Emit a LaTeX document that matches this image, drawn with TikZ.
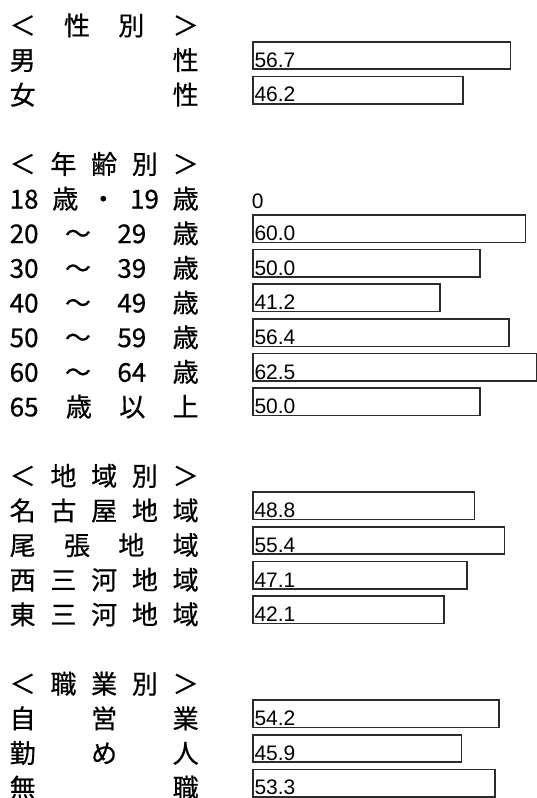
\documentclass[tikz,border=0pt]{standalone}
\usepackage{fontspec}
\setmainfont{Noto Sans CJK JP}[FakeBold=0.6]
\newfontfamily\numfont{Liberation Sans}
\usepackage{tikz}
\definecolor{barline}{HTML}{2b2b2b}
\newcommand\spreadlabel[1]{\hbox to 189pt{#1}}
\tikzset{%
    base/.style = {
        inner sep=0pt,
        font=\fontsize{26}{26}\selectfont,
    },
    rowlabel/.style = {
        base,
        anchor=base west,
    },
    bar/.style = {
        rectangle,
        draw=barline,
        line width=1.6pt,
        inner sep=0pt,
        minimum height=27.4pt,
        minimum width=#1*4.54pt,
        anchor=south west,
    },
    barvalue/.style = {
        inner sep=0pt,
        anchor=base west,
        font=\numfont\fontsize{21}{21}\selectfont,
    },
}

\begin{document}
\begin{tikzpicture}[x=1pt,y=-1pt]
    \useasboundingbox (0,0) rectangle (537,798);
    % sex
    \node [rowlabel] (sexhead) at (9.5,35.25) {\spreadlabel{＜\hfill 性\hfill 別\hfill ＞}};
    \node [rowlabel] (male) at (9.5,69.9) {\spreadlabel{男\hfill 性}};
    \node [rowlabel] (female) at (9.5,104.55) {\spreadlabel{女\hfill 性}};
    \node [bar=56.7] (malebar) at (252.3,69.9) {};
    \node [bar=46.2] (femalebar) at (252.3,104.55) {};
    \node [barvalue] at ([shift={(2pt,2.6pt)}]malebar.south west) {56.7};
    \node [barvalue] at ([shift={(2pt,2.6pt)}]femalebar.south west) {46.2};
    % age
    \node [rowlabel] (agehead) at (9.5,173.85) {\spreadlabel{＜\hfill 年\hfill 齢\hfill 別\hfill ＞}};
    \node [rowlabel] (age18) at (9.5,208.5) {\spreadlabel{18\hfill 歳\kern12pt ・\hfill 19\hfill 歳}};
    \node [rowlabel] (age20) at (9.5,243.15) {\spreadlabel{20\hfill ～\hfill 29\hfill 歳}};
    \node [rowlabel] (age30) at (9.5,277.8) {\spreadlabel{30\hfill ～\hfill 39\hfill 歳}};
    \node [rowlabel] (age40) at (9.5,312.45) {\spreadlabel{40\hfill ～\hfill 49\hfill 歳}};
    \node [rowlabel] (age50) at (9.5,347.1) {\spreadlabel{50\hfill ～\hfill 59\hfill 歳}};
    \node [rowlabel] (age60) at (9.5,381.75) {\spreadlabel{60\hfill ～\hfill 64\hfill 歳}};
    \node [rowlabel] (age65) at (9.5,416.4) {\spreadlabel{65\hfill 歳\hfill 以\hfill 上}};
    \node [barvalue] (age18val) at (251.7,208.5) {0};
    \node [bar=60.0] (age20bar) at (252.3,243.15) {};
    \node [bar=50.0] (age30bar) at (252.3,277.8) {};
    \node [bar=41.2] (age40bar) at (252.3,312.45) {};
    \node [bar=56.4] (age50bar) at (252.3,347.1) {};
    \node [bar=62.5] (age60bar) at (252.3,381.75) {};
    \node [bar=50.0] (age65bar) at (252.3,416.4) {};
    \node [barvalue] at ([shift={(2pt,2.6pt)}]age20bar.south west) {60.0};
    \node [barvalue] at ([shift={(2pt,2.6pt)}]age30bar.south west) {50.0};
    \node [barvalue] at ([shift={(2pt,2.6pt)}]age40bar.south west) {41.2};
    \node [barvalue] at ([shift={(2pt,2.6pt)}]age50bar.south west) {56.4};
    \node [barvalue] at ([shift={(2pt,2.6pt)}]age60bar.south west) {62.5};
    \node [barvalue] at ([shift={(2pt,2.6pt)}]age65bar.south west) {50.0};
    % region
    \node [rowlabel] (areahead) at (9.5,485.7) {\spreadlabel{＜\hfill 地\hfill 域\hfill 別\hfill ＞}};
    \node [rowlabel] (nagoya) at (9.5,520.35) {\spreadlabel{名\hfill 古\hfill 屋\hfill 地\hfill 域}};
    \node [rowlabel] (owari) at (9.5,555.0) {\spreadlabel{尾\hfill 張\hfill 地\hfill 域}};
    \node [rowlabel] (nishimikawa) at (9.5,589.65) {\spreadlabel{西\hfill 三\hfill 河\hfill 地\hfill 域}};
    \node [rowlabel] (higashimikawa) at (9.5,624.3) {\spreadlabel{東\hfill 三\hfill 河\hfill 地\hfill 域}};
    \node [bar=48.8] (nagoyabar) at (252.3,520.35) {};
    \node [bar=55.4] (owaribar) at (252.3,555.0) {};
    \node [bar=47.1] (nishimikawabar) at (252.3,589.65) {};
    \node [bar=42.1] (higashimikawabar) at (252.3,624.3) {};
    \node [barvalue] at ([shift={(2pt,2.6pt)}]nagoyabar.south west) {48.8};
    \node [barvalue] at ([shift={(2pt,2.6pt)}]owaribar.south west) {55.4};
    \node [barvalue] at ([shift={(2pt,2.6pt)}]nishimikawabar.south west) {47.1};
    \node [barvalue] at ([shift={(2pt,2.6pt)}]higashimikawabar.south west) {42.1};
    % occupation
    \node [rowlabel] (jobhead) at (9.5,693.6) {\spreadlabel{＜\hfill 職\hfill 業\hfill 別\hfill ＞}};
    \node [rowlabel] (selfemp) at (9.5,728.25) {\spreadlabel{自\hfill 営\hfill 業}};
    \node [rowlabel] (employee) at (9.5,762.9) {\spreadlabel{勤\hfill め\hfill 人}};
    \node [rowlabel] (nojob) at (9.5,797.55) {\spreadlabel{無\hfill 職}};
    \node [bar=54.2] (selfempbar) at (252.3,728.25) {};
    \node [bar=45.9] (employeebar) at (252.3,762.9) {};
    \node [bar=53.3] (nojobbar) at (252.3,797.55) {};
    \node [barvalue] at ([shift={(2pt,2.6pt)}]selfempbar.south west) {54.2};
    \node [barvalue] at ([shift={(2pt,2.6pt)}]employeebar.south west) {45.9};
    \node [barvalue] at ([shift={(2pt,2.6pt)}]nojobbar.south west) {53.3};
\end{tikzpicture}
\end{document}
